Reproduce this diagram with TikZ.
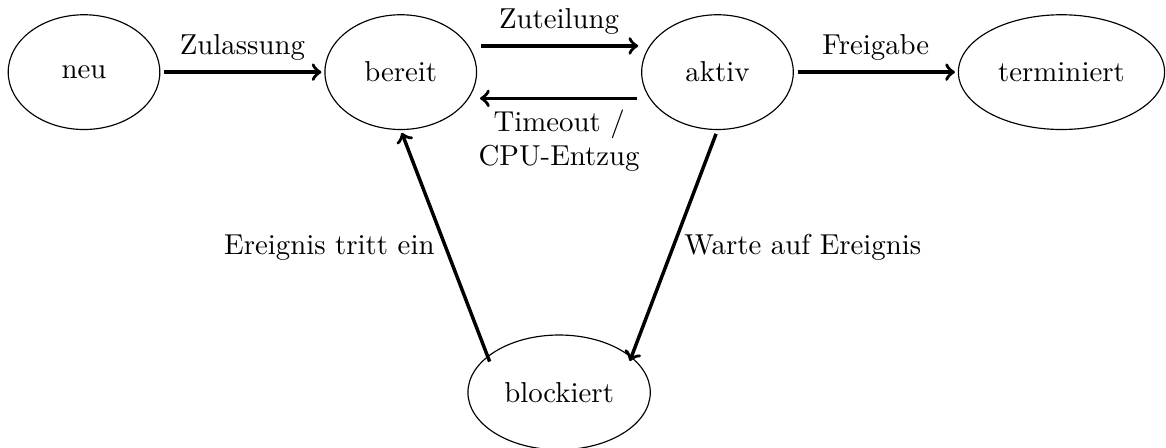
\documentclass[tikz,border=0pt]{standalone}
\usetikzlibrary{calc,positioning,shapes.geometric}

\begin{document}
\begin{tikzpicture}[->,                   % arrow style
                    zustand/.style={draw,ellipse,minimum width=1.85cm,minimum height=1.4cm},
                    uebergang/.style={very thick,shorten <=1.4pt,shorten >=1pt}]

% ---------------------------------------------------------------
% Frame (margins of the picture)
\useasboundingbox (-1.025,0.88) rectangle (13.2,-4.575);

% ---------------------------------------------------------------
% States
\node[zustand] (neu) at (0,0) {neu};
\node[zustand,right=2cm of neu] (bereit) {bereit};
\node[zustand,right=2cm of bereit] (aktiv) {aktiv};
\node[zustand,right=2cm of aktiv] (terminiert) {terminiert};

\coordinate (mitte) at ($(bereit)!0.5!(aktiv)$);   % between bereit and aktiv
\node[zustand,below=3.2cm of mitte] (blockiert) {blockiert};

% ---------------------------------------------------------------
% Transitions
\draw[uebergang] (neu) -- (bereit)
      node[midway,above] {Zulassung};

\draw[uebergang] ([yshift=0.32cm]bereit.east) -- ([yshift=0.32cm]aktiv.west)
      node[midway,above] {Zuteilung};

\draw[uebergang] ([yshift=-0.32cm]aktiv.west) -- ([yshift=-0.32cm]bereit.east)
      node[midway,below,align=center] {Timeout /\\CPU-Entzug};

\draw[uebergang] (aktiv) -- (terminiert)
      node[midway,above] {Freigabe};

% Blocking loop
\coordinate (bl) at ($(blockiert.center)+(-0.83,0.33)$);
\coordinate (br) at ($(blockiert.center)+(0.85,0.35)$);

\draw[uebergang] (aktiv.south) -- (br)
      node[midway,right] {Warte auf Ereignis};

\draw[uebergang] (bl) -- (bereit.south)
      node[midway,left] {Ereignis tritt ein};

\end{tikzpicture}
\end{document}
